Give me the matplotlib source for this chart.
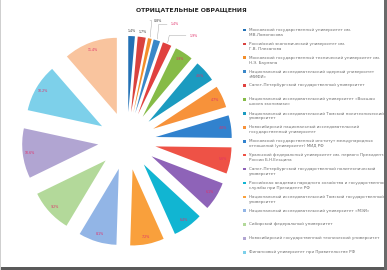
import numpy as np
import matplotlib.pyplot as plt
from matplotlib.patches import Rectangle

# universities, in the order the slices go clockwise from 12 o'clock
universities = [
    "Московский государственный университет им.\nМ.В.Ломоносова",
    "Российский экономический университет им.\nГ.В. Плеханова",
    "Московский государственный технический университет им.\nН.Э. Баумана",
    "Национальный исследовательский ядерный университет\n«МИФИ»",
    "Санкт-Петербургский государственный университет",
    "Национальный исследовательский университет «Высшая\nшкола экономики»",
    "Национальный исследовательский Томский политехнический\nуниверситет",
    "Новосибирский национальный исследовательский\nгосударственный университет",
    "Московский государственный институт международных\nотношений (университет) МИД РФ",
    "Уральский федеральный университет им. первого Президента\nРоссии Б.Н.Ельцина",
    "Санкт-Петербургский государственный политехнический\nуниверситет",
    "Российская академия народного хозяйства и государственной\nслужбы при Президенте РФ",
    "Национальный исследовательский Томский государственный\nуниверситет",
    "Национальный исследовательский университет «МЭИ»",
    "Сибирский федеральный университет",
    "Новосибирский государственный технический университет",
    "Финансовый университет при Правительстве РФ",
    "Казанский (Приволжский) федеральный университет",
]
shares = [1.4, 1.7, 0.8, 1.4, 1.9, 3.9, 4.6, 4.7, 4.8, 5.6, 6.1, 6.4,
          7.2, 8.1, 9.2, 10.6, 10.2, 11.4]
colors = ["#2371B5", "#D9433F", "#F28E2B", "#3A87C8", "#E0413F", "#86BB47",
          "#1B9BC0", "#F7923A", "#3182CE", "#EE5246", "#8E63B8", "#11B5D2",
          "#F9A03C", "#92B5E6", "#B3D99A", "#B1A5D2", "#7DD0EA", "#F9C49E"]

fig = plt.figure(figsize=(3.87, 2.70), dpi=100)
ax = fig.add_axes([0.0568, 0.0889, 0.5426, 0.7778])

expl = 0.38
wedges, _ = ax.pie(shares, colors=colors, startangle=90, counterclock=False,
                   explode=[expl] * len(shares), wedgeprops=dict(linewidth=0))
ax.set_xlim(-1.38, 1.38)
ax.set_ylim(-1.38, 1.38)
ax.set_aspect("equal")

lab_col = "#E0306A"
for i, w in enumerate(wedges):
    ang = np.deg2rad((w.theta1 + w.theta2) / 2)
    txt = f"{shares[i]:.1f}%"
    if i < 2:
        r = 1.45
        ax.text(r * np.cos(ang), r * np.sin(ang), txt, fontsize=2.3,
                color="#3a3a3a", ha="center", va="center")
    elif i < 5:
        # small slices: label outside with a leader line
        r_end = 1.4
        r_txt = [1.62, 1.6, 1.5][i - 2]
        shift = [0.0, 0.12, 0.25][i - 2]
        x0, y0 = r_end * np.cos(ang), r_end * np.sin(ang)
        x1, y1 = r_txt * np.cos(ang) + shift, r_txt * np.sin(ang)
        ax.plot([x0, x0 + 0.02, x1 - 0.05], [y0, y1, y1], color="#999999", lw=0.3,
                clip_on=False)
        ax.text(x1, y1, txt, fontsize=2.3, color="#3a3a3a" if i == 2 else lab_col,
                ha="left", va="center", clip_on=False)
    else:
        r = 1.28
        ax.text(r * np.cos(ang), r * np.sin(ang), txt, fontsize=2.3,
                color=lab_col, ha="center", va="center")

fig.text(0.494, 0.966, "ОТРИЦАТЕЛЬНЫЕ ОБРАЩЕНИЯ", fontsize=4.4,
         fontweight="bold", ha="center", va="center", color="#262626")

# legend, drawn by hand so the marker sits on the first line
W, H = 387, 270
y_top = 30
step = 13.9
for i in range(17):
    y = y_top + i * step
    fig.add_artist(Rectangle(((243) / W, 1 - (y + 1.3) / H), 2.6 / W, 2.6 / H,
                             transform=fig.transFigure, color=colors[i], lw=0))
    fig.text(249 / W, 1 - (y - 2.2) / H, universities[i], fontsize=3.0,
             color="#6f6f6f", ha="left", va="top", linespacing=1.35)

# frame around the picture
fig.add_artist(Rectangle((0, 0), 1, 3 / H, transform=fig.transFigure,
                         color="#5a5a5a", lw=0))
fig.add_artist(Rectangle((1 - 3 / W, 0), 3 / W, 1, transform=fig.transFigure,
                         color="#6a6a6a", lw=0))
fig.add_artist(Rectangle((0, 0), 1 / W, 1, transform=fig.transFigure,
                         color="#cfcfcf", lw=0))

fig.savefig("out.png", dpi=100)
